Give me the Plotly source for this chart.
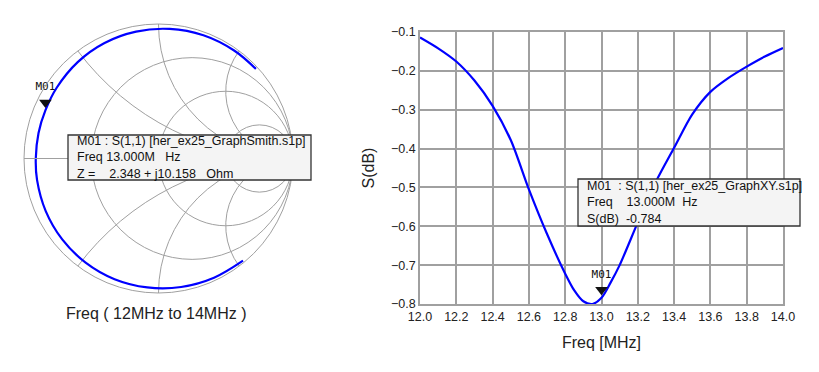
import plotly.graph_objects as go

# ---------------- data ----------------
# S(1,1), as impedance in Ohm (Z0 = 50 Ohm), 12 MHz -> 14 MHz
z0 = 50.0
smith_r_ohm = [1.94, 1.93, 1.84, 1.78, 1.72, 1.80, 1.90, 2.04, 2.18, 2.29, 2.33, 2.348,
               2.23, 2.04, 1.88, 1.83, 1.84, 1.92, 2.37, 3.05]
smith_x_ohm = [-106.2, -78.4, -59.55, -45.8, -34.98, -26.0, -18.2, -11.07, -4.37, 0.0, 5.24, 10.158,
               15.7, 23.3, 31.8, 41.9, 54.5, 71.4, 96.0, 128.2]

# marker M01 (13 MHz)
m01_r_ohm = [2.348]
m01_x_ohm = [10.158]
m01_freq = [13.0]
m01_db = [-0.784]

# S(dB) vs frequency
freq_mhz = [12.0, 12.1, 12.2, 12.3, 12.4, 12.5, 12.6, 12.7, 12.8, 12.85, 12.9, 12.95,
            13.0, 13.05, 13.1, 13.2, 13.3, 13.4, 13.5, 13.6, 13.7, 13.8, 13.9, 14.0]
s11_db = [-0.114, -0.142, -0.176, -0.225, -0.290, -0.378, -0.505, -0.620, -0.722, -0.765,
          -0.793, -0.800, -0.784, -0.745, -0.700, -0.590, -0.485, -0.398, -0.312, -0.254,
          -0.218, -0.189, -0.163, -0.141]

smith_r_grid = [1/3, 1.0, 3.0]
smith_x_grid = [-2.0, -1.0, -0.5, 0.5, 1.0, 2.0]
x_ticks = [12.0, 12.2, 12.4, 12.6, 12.8, 13.0, 13.2, 13.4, 13.6, 13.8, 14.0]
y_ticks = [-0.8, -0.7, -0.6, -0.5, -0.4, -0.3, -0.2, -0.1]

W, H = 819, 372
BLUE = "#0000ff"
GRID = "#a0a0a0"
TXT = "#222222"
FONT = "Liberation Sans"
BOX_BG = "#f4f4f4"

LABEL_MARKER = dict(size=26, color="rgba(0,0,0,0)")
TRI_MARKER = dict(symbol="triangle-up", angle=180, standoff=8, size=11, color="#111111")
LABEL_FONT = dict(family="DejaVu Sans Mono", size=11, color="#111111")

fig = go.Figure()

# Smith chart traces
fig.add_trace(go.Scattersmith(
    real=[r / z0 for r in smith_r_ohm],
    imag=[x / z0 for x in smith_x_ohm],
    mode="lines",
    line=dict(color=BLUE, width=2.2, shape="spline"),
    hoverinfo="skip", showlegend=False,
))
m01_real = [r / z0 for r in m01_r_ohm]
m01_imag = [x / z0 for x in m01_x_ohm]
fig.add_trace(go.Scattersmith(
    real=m01_real, imag=m01_imag, mode="markers", marker=TRI_MARKER,
    hoverinfo="skip", showlegend=False,
))
fig.add_trace(go.Scattersmith(
    real=m01_real, imag=m01_imag, mode="markers+text", marker=LABEL_MARKER,
    text=["M01"], textposition="top center", textfont=LABEL_FONT,
    hoverinfo="skip", showlegend=False,
))

# XY chart traces
fig.add_trace(go.Scatter(
    x=freq_mhz, y=s11_db, mode="lines",
    line=dict(color=BLUE, width=2.2, shape="spline", smoothing=0.8),
    hoverinfo="skip", showlegend=False,
))
fig.add_trace(go.Scatter(
    x=m01_freq, y=m01_db, mode="markers", marker=TRI_MARKER,
    hoverinfo="skip", showlegend=False, cliponaxis=False,
))
fig.add_trace(go.Scatter(
    x=m01_freq, y=m01_db, mode="markers+text", marker=LABEL_MARKER,
    text=["M01"], textposition="top center", textfont=LABEL_FONT,
    hoverinfo="skip", showlegend=False, cliponaxis=False,
))

def px_x(p):
    return p / W

def px_y(p):
    return 1 - p / H

def box(x0, y0, x1, y1):
    return dict(type="rect", xref="paper", yref="paper",
                x0=px_x(x0), x1=px_x(x1), y0=px_y(y1), y1=px_y(y0),
                fillcolor=BOX_BG, line=dict(color="#333333", width=1.3), layer="above")

def box_text(s, x, y):
    return dict(text=s, x=px_x(x), y=px_y(y), xref="paper", yref="paper",
                xanchor="left", yanchor="middle", align="left", showarrow=False,
                borderpad=0, font=dict(size=12.5, color="#111111"))

smith_box_text = ("M01 : S(1,1) [her_ex25_GraphSmith.s1p]<br>"
                  "Freq 13.000M   Hz<br>"
                  "Z =    2.348 + j10.158   Ohm")
xy_box_text = ("M01  : S(1,1) [her_ex25_GraphXY.s1p]<br>"
               "Freq    13.000M  Hz<br>"
               "S(dB)  -0.784")

annotations = [
    dict(text="Freq ( 12MHz to 14MHz )", x=px_x(156), y=px_y(313), xref="paper", yref="paper",
         xanchor="center", yanchor="middle", showarrow=False,
         font=dict(size=16, color=TXT)),
    box_text(smith_box_text, 76, 157.5),
    box_text(xy_box_text, 586, 202.5),
]

fig.update_layout(
    width=W, height=H,
    margin=dict(l=0, r=0, t=0, b=0, autoexpand=False),
    paper_bgcolor="white", plot_bgcolor="white",
    font=dict(family=FONT, size=12, color=TXT),
    smith=dict(
        domain=dict(x=[px_x(24), px_x(293)], y=[px_y(293), px_y(24)]),
        bgcolor="white",
        realaxis=dict(tickvals=smith_r_grid, showgrid=True, gridcolor=GRID, gridwidth=1,
                      showline=True, linecolor=GRID, linewidth=1,
                      showticklabels=False, ticks=""),
        imaginaryaxis=dict(tickvals=smith_x_grid, showgrid=True, gridcolor=GRID, gridwidth=1,
                           showline=True, linecolor=GRID, linewidth=1,
                           showticklabels=False, ticks=""),
    ),
    xaxis=dict(
        domain=[px_x(420), px_x(783)], range=[12.0, 14.0],
        tickvals=x_ticks, ticktext=[f"{v:.1f}" for v in x_ticks],
        showgrid=True, gridcolor=GRID, gridwidth=1.5,
        showline=True, linecolor=GRID, linewidth=1.5, mirror=True,
        ticks="", zeroline=False, automargin=False,
        tickfont=dict(size=12.5, color=TXT),
        title=dict(text="Freq [MHz]", font=dict(size=16, color=TXT), standoff=14),
        anchor="y",
    ),
    yaxis=dict(
        domain=[px_y(304), px_y(32)], range=[-0.8, -0.1],
        tickvals=y_ticks, ticktext=[f"{v:.1f}".replace("-", "\u2212") for v in y_ticks],
        showgrid=True, gridcolor=GRID, gridwidth=1.5,
        showline=True, linecolor=GRID, linewidth=1.5, mirror=True,
        ticks="", zeroline=False, automargin=False,
        tickfont=dict(size=12.5, color=TXT),
        title=dict(text="S(dB)", font=dict(size=16, color=TXT), standoff=12),
        anchor="x",
    ),
    shapes=[box(68, 135, 311, 180), box(578, 179, 800, 226)],
    annotations=annotations,
)

fig.write_html("out.html", config={"displayModeBar": False},
               post_script="document.body.style.margin='0';document.body.style.overflow='hidden';")
